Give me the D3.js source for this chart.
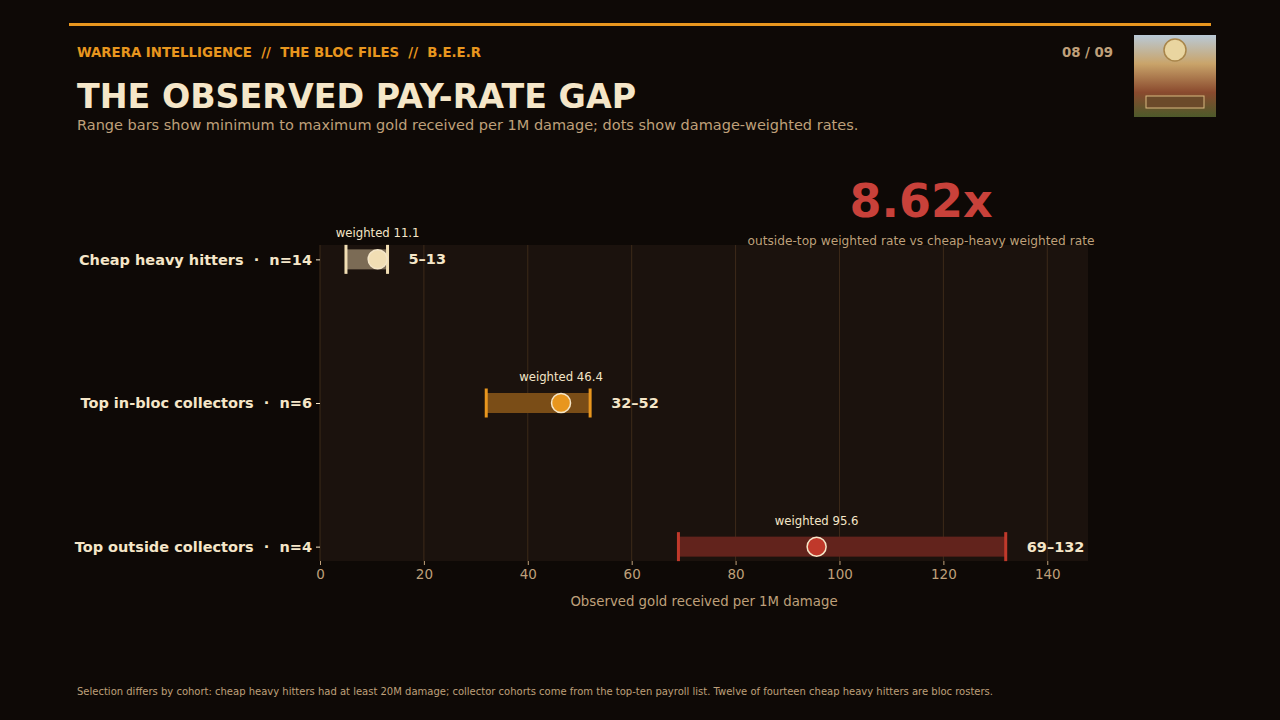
<!DOCTYPE html>
<html>
<head>
<meta charset="utf-8">
<script src="https://cdn.jsdelivr.net/npm/d3@7"></script>
<style>
  html, body { margin: 0; padding: 0; background: #0e0906; }
  svg { display: block; font-family: 'DejaVu Sans', sans-serif; }
</style>
</head>
<body>
<svg id="chart" width="1280" height="720"></svg>
<script>
// cohort data
const cohorts = ['Cheap heavy hitters', 'Top in-bloc collectors', 'Top outside collectors'];
const counts = [14, 6, 4];
const minRate = [5, 32, 69];
const maxRate = [13, 52, 132];
const weighted = [11.1, 46.4, 95.6];
const xTicks = [0, 20, 40, 60, 80, 100, 120, 140];

const colors = ['#f1deb4', '#e8961e', '#c0392b'];
const barFills = ['#7b6b55', '#7a4d17', '#62231c'];

const cream = '#f5e6c8';
const tan = '#bfa07a';
const gold = '#e8961e';

const svg = d3.select('#chart');
const width = 1280;
const height = 720;

svg.append('rect').attr('width', width).attr('height', height).attr('fill', '#0e0906');

// top rule
svg.append('line')
  .attr('x1', 69).attr('x2', 1211).attr('y1', 24.5).attr('y2', 24.5)
  .attr('stroke', gold).attr('stroke-width', 3);

// header
svg.append('text')
  .attr('x', 77).attr('y', 57)
  .attr('fill', gold).attr('font-size', 13.3).attr('font-weight', 'bold')
  .attr('xml:space', 'preserve')
  .text('WARERA INTELLIGENCE  //  THE BLOC FILES  //  B.E.E.R');

svg.append('text')
  .attr('x', 1113).attr('y', 57).attr('text-anchor', 'end')
  .attr('fill', tan).attr('font-size', 13.3).attr('font-weight', 'bold')
  .text('08 / 09');

// thumbnail stand-in
const defs = svg.append('defs');
const grad = defs.append('linearGradient').attr('id', 'thumb').attr('x1', 0).attr('x2', 0).attr('y1', 0).attr('y2', 1);
grad.append('stop').attr('offset', '0%').attr('stop-color', '#b9c9d6');
grad.append('stop').attr('offset', '35%').attr('stop-color', '#c9a46a');
grad.append('stop').attr('offset', '70%').attr('stop-color', '#8a4a2e');
grad.append('stop').attr('offset', '100%').attr('stop-color', '#4d5a2a');
svg.append('rect')
  .attr('x', 1134).attr('y', 35).attr('width', 82).attr('height', 82)
  .attr('fill', 'url(#thumb)');
svg.append('circle').attr('cx', 1175).attr('cy', 50).attr('r', 11)
  .attr('fill', '#e9d5a0').attr('stroke', '#a8854a').attr('stroke-width', 1.5);
svg.append('rect').attr('x', 1146).attr('y', 96).attr('width', 58).attr('height', 12)
  .attr('fill', '#6b4a2a').attr('stroke', '#d9b980').attr('stroke-width', 1);

// title + subtitle
svg.append('text')
  .attr('x', 77).attr('y', 108)
  .attr('fill', cream).attr('font-size', 33.3).attr('font-weight', 'bold')
  .text('THE OBSERVED PAY-RATE GAP');

svg.append('text')
  .attr('x', 77).attr('y', 130)
  .attr('fill', tan).attr('font-size', 14.5)
  .text('Range bars show minimum to maximum gold received per 1M damage; dots show damage-weighted rates.');

// plot area
const plot = { left: 320, right: 1088, top: 245, bottom: 561 };

const x = d3.scaleLinear()
  .domain([0, d3.max(maxRate) * 1.12])
  .range([plot.left, plot.right]);

const y = d3.scaleLinear()
  .domain([-0.1, cohorts.length - 0.9])
  .range([plot.top, plot.bottom]);

svg.append('rect')
  .attr('x', plot.left).attr('y', plot.top)
  .attr('width', plot.right - plot.left).attr('height', plot.bottom - plot.top)
  .attr('fill', '#1b120d');

// headline multiple
svg.append('text')
  .attr('x', 921).attr('y', 217).attr('text-anchor', 'middle')
  .attr('fill', '#c8413a').attr('font-size', 46).attr('font-weight', 'bold')
  .text('8.62x');

svg.append('text')
  .attr('x', 921).attr('y', 245).attr('text-anchor', 'middle')
  .attr('fill', tan).attr('font-size', 12.2)
  .text('outside-top weighted rate vs cheap-heavy weighted rate');

// grid
svg.append('g')
  .selectAll('line')
  .data(xTicks)
  .join('line')
  .attr('x1', (d) => x(d)).attr('x2', (d) => x(d))
  .attr('y1', plot.top).attr('y2', plot.bottom)
  .attr('stroke', '#3d2a19').attr('stroke-width', 1);

// x axis
const xAxis = svg.append('g')
  .attr('transform', `translate(0,${plot.bottom})`)
  .call(d3.axisBottom(x).tickValues(xTicks).tickSize(4).tickPadding(4));
xAxis.select('.domain').remove();
xAxis.selectAll('line').attr('stroke', tan);
xAxis.selectAll('text').attr('fill', tan).attr('font-size', 13.5).attr('font-family', 'DejaVu Sans');

svg.append('text')
  .attr('x', (plot.left + plot.right) / 2).attr('y', 606).attr('text-anchor', 'middle')
  .attr('fill', tan).attr('font-size', 13.3)
  .text('Observed gold received per 1M damage');

// y axis
const yAxis = svg.append('g')
  .attr('transform', `translate(${plot.left},0)`)
  .call(d3.axisLeft(y)
    .tickValues(d3.range(cohorts.length))
    .tickFormat((i) => `${cohorts[i]}  \u00b7  n=${counts[i]}`)
    .tickSize(4).tickPadding(4));
yAxis.select('.domain').remove();
yAxis.selectAll('line').attr('stroke', cream);
yAxis.selectAll('text')
  .attr('fill', cream).attr('font-size', 14.5).attr('font-weight', 'bold')
  .attr('font-family', 'DejaVu Sans').attr('xml:space', 'preserve');

// range bars
const rows = d3.range(cohorts.length);
const barH = 20;
const capH = 29;

svg.append('g')
  .selectAll('rect')
  .data(rows)
  .join('rect')
  .attr('x', (i) => x(minRate[i]))
  .attr('y', (i) => y(i) - barH / 2)
  .attr('width', (i) => x(maxRate[i]) - x(minRate[i]))
  .attr('height', barH)
  .attr('fill', (i) => barFills[i]);

const caps = svg.append('g');
rows.forEach((i) => {
  [minRate[i], maxRate[i]].forEach((v) => {
    caps.append('line')
      .attr('x1', x(v)).attr('x2', x(v))
      .attr('y1', y(i) - capH / 2).attr('y2', y(i) + capH / 2)
      .attr('stroke', colors[i]).attr('stroke-width', 3);
  });
});

// weighted dots
svg.append('g')
  .selectAll('circle')
  .data(rows)
  .join('circle')
  .attr('cx', (i) => x(weighted[i]))
  .attr('cy', (i) => y(i))
  .attr('r', 9.5)
  .attr('fill', (i) => colors[i])
  .attr('stroke', cream)
  .attr('stroke-width', 1.5);

// weighted labels
svg.append('g')
  .selectAll('text')
  .data(rows)
  .join('text')
  .attr('x', (i) => x(weighted[i]))
  .attr('y', (i) => y(i) - 22)
  .attr('text-anchor', 'middle')
  .attr('fill', cream).attr('font-size', 11.7)
  .text((i) => `weighted ${weighted[i].toFixed(1)}`);

// range labels
svg.append('g')
  .selectAll('text')
  .data(rows)
  .join('text')
  .attr('x', (i) => x(maxRate[i]) + 21)
  .attr('y', (i) => y(i) + 5)
  .attr('fill', cream).attr('font-size', 14.5).attr('font-weight', 'bold')
  .text((i) => `${minRate[i]}\u2013${maxRate[i]}`);

// footnote
svg.append('text')
  .attr('x', 77).attr('y', 695)
  .attr('fill', tan).attr('font-size', 10.5)
  .attr('textLength', 916).attr('lengthAdjust', 'spacingAndGlyphs')
  .text('Selection differs by cohort: cheap heavy hitters had at least 20M damage; collector cohorts come from the top-ten payroll list. Twelve of fourteen cheap heavy hitters are bloc rosters.');
</script>
</body>
</html>
